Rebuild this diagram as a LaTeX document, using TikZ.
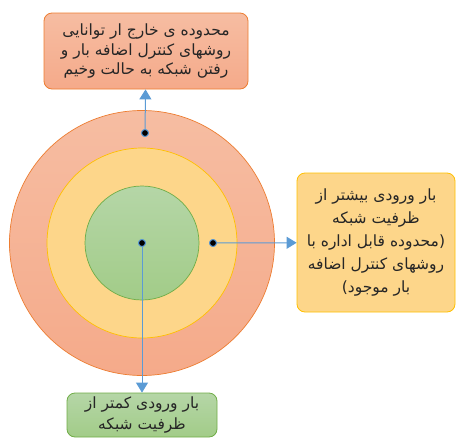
\documentclass[tikz,border=0pt]{standalone}
\usepackage{fontspec}
\usepackage{tikz}
\usetikzlibrary{positioning,arrows.meta,calc}
\newfontfamily\arabicfont[Script=Arabic]{DejaVu Sans}
\TeXXeTstate=1
\newcommand{\rl}[1]{\beginR #1\endR}
\definecolor{outerfill}{HTML}{F5AA8A}
\definecolor{outertop}{HTML}{F6BDA2}
\definecolor{outerline}{HTML}{ED7D31}
\definecolor{midfill}{HTML}{FDD68A}
\definecolor{midline}{HTML}{FFC000}
\definecolor{innertop}{HTML}{B5D6A7}
\definecolor{innerfill}{HTML}{A2CC88}
\definecolor{innerline}{HTML}{70AD47}
\definecolor{arrowblue}{HTML}{5B9BD5}

\begin{document}
\begin{tikzpicture}[x=1pt,y=-1pt,
  ring/.style={circle,draw,line width=0.7pt,inner sep=0pt},
  dot/.style={circle,draw=arrowblue,fill=black,line width=0.9pt,inner sep=0pt,minimum size=7pt},
  label box/.style={rounded corners=8pt,draw,line width=0.8pt,align=center,
    font=\arabicfont\fontsize{15.5}{19.5}\selectfont,inner sep=1pt,text=black!85},
  link/.style={draw=arrowblue,line width=1pt,-{Triangle[length=10pt,width=12pt]}}]
  \useasboundingbox (0,0) rectangle (456,440);
  % rings
  \node[ring,draw=outerline,top color=outertop,bottom color=outerfill,minimum size=265pt] (outer) at (142,243) {};
  \node[ring,draw=midline,fill=midfill,minimum size=190pt] (middle) at (142,243) {};
  \node[ring,draw=innerline,top color=innertop,bottom color=innerfill,minimum size=114pt] (inner) at (142,243) {};
  % text boxes
  \node[label box,draw=outerline,top color=outertop,bottom color=outerfill,minimum width=204pt,minimum height=76pt] (topbox) at (146,51)
    {\rl{محدوده ی خارج ار توانایی}\\ \rl{روشهای کنترل اضافه بار  و}\\ \rl{رفتن شبکه به حالت وخیم}};
  \node[label box,draw=midline,fill=midfill,minimum width=158pt,minimum height=139pt,
    font=\arabicfont\fontsize{15.5}{23}\selectfont] (rightbox) at (376,242.5)
    {\rl{بار ورودی بیشتر از}\\ \rl{ظرفیت شبکه}\\ \rl{(محدوده قابل اداره با}\\ \rl{روشهای کنترل اضافه}\\ \rl{بار موجود)}};
  \node[label box,draw=innerline,top color=innertop,bottom color=innerfill,minimum width=150pt,minimum height=44pt,
    font=\arabicfont\fontsize{15.5}{21}\selectfont] (bottombox) at (142,415)
    {\rl{بار ورودی کمتر از}\\ \rl{ظرفیت شبکه}};
  % markers
  \node[dot] (dtop) at (145,133) {};
  \node[dot] (dright) at (213,243) {};
  \node[dot] (dcenter) at (142,243) {};
  % arrows
  \draw[link] (dtop.center) -- (topbox);
  \draw[link] (dright.center) -- (rightbox);
  \draw[link] (dcenter.center) -- (bottombox);
  \node[dot] at (dtop) {};
  \node[dot] at (dright) {};
  \node[dot] at (dcenter) {};
\end{tikzpicture}
\end{document}
